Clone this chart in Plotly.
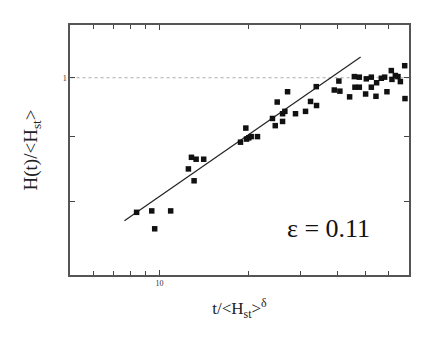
import plotly.graph_objects as go
import math

# data
x_data = [8.37, 9.42, 9.64, 10.92, 12.54, 12.84, 13.32, 14.13, 13.11, 18.83,
          19.63, 19.74, 20.09, 20.47, 21.50, 24.17, 24.70, 25.08, 26.15, 26.15,
          26.62, 27.19, 28.93, 31.28, 32.53, 34.09, 34.01, 39.15, 40.58, 40.90,
          44.13, 45.79, 46.00, 47.60, 47.60, 50.00, 50.27, 52.28, 52.28, 54.20,
          54.48, 56.52, 58.00, 59.05, 61.11, 61.41, 63.06, 64.35, 65.58, 67.82, 67.98]
y_data = [0.784, 0.786, 0.761, 0.786, 0.848, 0.866, 0.863, 0.863, 0.830, 0.890,
          0.913, 0.895, 0.897, 0.899, 0.899, 0.929, 0.917, 0.957, 0.924, 0.937,
          0.941, 0.975, 0.937, 0.941, 0.958, 0.951, 0.984, 0.978, 0.994, 0.976,
          0.966, 1.002, 0.983, 1.001, 0.983, 0.971, 0.998, 1.001, 0.983, 0.967,
          0.991, 0.999, 1.001, 0.975, 1.013, 0.997, 1.004, 1.002, 0.993, 1.022, 0.963]

fit_x = [7.61, 48.1]
fit_y = [0.772, 1.038]

ref_x = [5, 70]
ref_y = [1, 1]

x_major = [10]
x_minor = [6, 7, 8, 9, 20, 30, 40, 50, 60, 70]
y_major = [1.0]
y_minor = [0.7, 0.8, 0.9]

annotation_text = "ε = 0.11"
annotation_pos = (37.5, 0.761)  # data coordinates

fig = go.Figure()
fig.add_trace(go.Scatter(x=ref_x, y=ref_y, mode="lines",
                         line=dict(color="#aaaaaa", width=1.2, dash="dot"),
                         hoverinfo="skip", showlegend=False))
fig.add_trace(go.Scatter(x=fit_x, y=fit_y, mode="lines",
                         line=dict(color="#222222", width=1.2),
                         showlegend=False))
fig.add_trace(go.Scatter(x=x_data, y=y_data, mode="markers",
                         marker=dict(symbol="square", size=5.5, color="#111111"),
                         showlegend=False))

fig.add_annotation(x=math.log10(annotation_pos[0]), y=math.log10(annotation_pos[1]),
                   xref="x", yref="y", text=annotation_text,
                   showarrow=False, font=dict(family="Liberation Serif", size=26, color="#111111"))

fig.update_layout(
    width=436, height=351,
    margin=dict(l=62, r=35, t=17, b=84),
    paper_bgcolor="white", plot_bgcolor="white",
    font=dict(family="Liberation Serif", color="#222222"),
)
fig.update_xaxes(type="log", range=[0.697, 1.846], automargin=False,
                 tickvals=x_major, ticktext=["10"],
                 ticks="inside", ticklen=5, tickcolor="#444444", mirror="allticks",
                 minor=dict(tickvals=x_minor, ticks="inside", ticklen=4, tickcolor="#444444"),
                 showline=True, linecolor="#555555", linewidth=1.5,
                 showgrid=False, zeroline=False,
                 tickfont=dict(size=8, family="Liberation Serif", color="#333333"),
                 title=dict(text="t/&lt;H<sub>st</sub>><sup>δ</sup>",
                            font=dict(size=17, family="Liberation Serif", color="#222222"), standoff=15))
fig.update_yaxes(type="log", range=[-0.1549, 0.0414], automargin=False,
                 tickvals=y_major, ticktext=["1"],
                 ticks="inside", ticklen=5, tickcolor="#444444", mirror="allticks",
                 minor=dict(tickvals=y_minor, ticks="inside", ticklen=5, tickcolor="#444444"),
                 showline=True, linecolor="#555555", linewidth=1.5,
                 showgrid=False, zeroline=False,
                 tickfont=dict(size=8, family="Liberation Serif", color="#333333"),
                 title=dict(text="H(t)/&lt;H<sub>st</sub>>",
                            font=dict(size=19, family="Liberation Serif", color="#222222"), standoff=20))

fig.write_html("out.html")
